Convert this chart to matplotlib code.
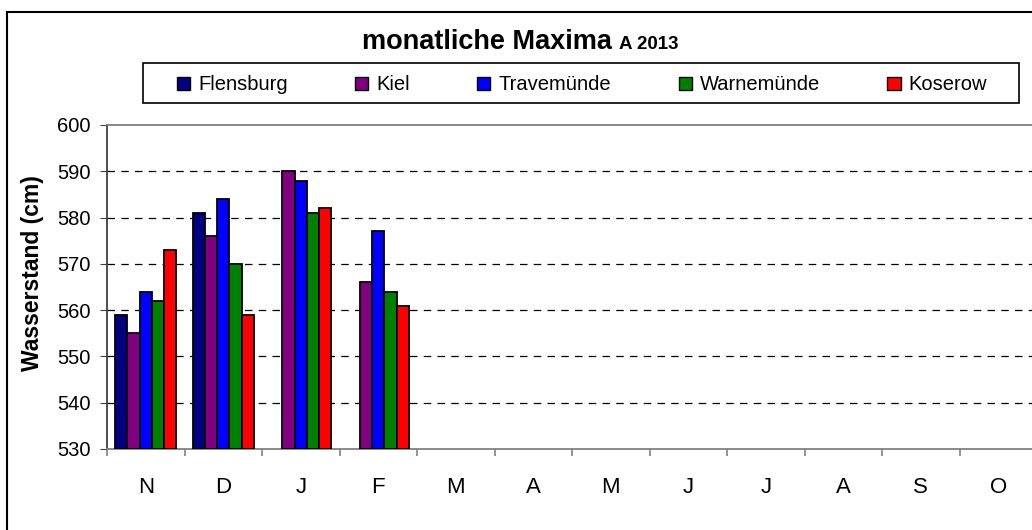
import matplotlib.pyplot as plt
import matplotlib.patches as mpatches
import numpy as np

plt.rcParams['font.family'] = ['Liberation Sans', 'DejaVu Sans']

# Monate (Nov 2012 - Okt 2013)
months = ['N', 'D', 'J', 'F', 'M', 'A', 'M', 'J', 'J', 'A', 'S', 'O']
stations = ['Flensburg', 'Kiel', 'Travemünde', 'Warnemünde', 'Koserow']
colors = ['#000080', '#800080', '#0000ff', '#008000', '#ff0000']

nan = np.nan
flensburg = [559, 581, nan, nan] + [nan] * 8
kiel = [555, 576, 590, 566] + [nan] * 8
travemuende = [564, 584, 588, 577] + [nan] * 8
warnemuende = [562, 570, 581, 564] + [nan] * 8
koserow = [573, 559, 582, 561] + [nan] * 8
series = [flensburg, kiel, travemuende, warnemuende, koserow]

W, H = 1032, 530
fig = plt.figure(figsize=(W / 100, H / 100), dpi=100)


def fx(px):
    return px / W


def fy(py):
    return 1 - py / H


# Rahmen um das Diagramm (unten und rechts ausserhalb des Bildes)
fig.patches.append(mpatches.Rectangle((fx(7), fy(540)), 1.2, 528 / H,
                                      transform=fig.transFigure, fill=False,
                                      edgecolor='black', linewidth=1.5))

ax = fig.add_axes([fx(107), fy(449), 930 / W, 324 / H])

x = np.arange(len(months))
w = 0.158
for i, (vals, c) in enumerate(zip(series, colors)):
    ax.bar(x + (i - 2) * w, np.array(vals) - 530, bottom=530, width=w,
           color=c, edgecolor='black', linewidth=1.3, zorder=3)

ax.set_xlim(-0.5, len(months) - 0.5)
ax.set_ylim(530, 600)
ax.set_yticks(range(530, 601, 10))
ax.set_xticks(x)
ax.set_xticklabels(months)
ax.set_xticks(np.arange(-0.5, len(months)), minor=True)
ax.tick_params(axis='x', which='major', length=0, labelsize=16, pad=20)
ax.tick_params(axis='x', which='minor', length=5, color='#808080', width=1.2)
ax.tick_params(axis='y', length=5, labelsize=14.5, color='#404040', pad=7)

for yv in range(540, 600, 10):
    ax.axhline(yv, color='black', linestyle=(0, (6, 5)), linewidth=0.9, zorder=1)

ax.spines['left'].set_color('#404040')
ax.spines['bottom'].set_color('#808080')
ax.spines['top'].set_color('#808080')
ax.spines['right'].set_visible(False)
for s in ax.spines.values():
    s.set_linewidth(1.3)

ax.set_ylabel('Wasserstand (cm)', fontsize=16.5, fontweight='bold')
ax.yaxis.set_label_coords((44 - 107) / 930, (449 - 273) / 324)

# Titel
renderer = fig.canvas.get_renderer()
title = fig.text(fx(362), fy(49), 'monatliche Maxima', ha='left', va='baseline',
                 fontsize=19.5, fontweight='bold')
tx1 = title.get_window_extent(renderer).x1
fig.text((tx1 + 7) / W, fy(49), 'A 2013', ha='left', va='baseline',
         fontsize=13.5, fontweight='bold')

# Legende mit eigenem Rahmen
fig.patches.append(mpatches.Rectangle((fx(143), fy(103)), 876 / W, 40 / H,
                                      transform=fig.transFigure, fill=False,
                                      edgecolor='black', linewidth=1.2))
handles = [mpatches.Patch(facecolor=c, edgecolor='black', linewidth=1) for c in colors]
fig.legend(handles, stations, loc='center', bbox_to_anchor=(fx(582), fy(85)),
           ncol=5, frameon=False, fontsize=14.5, handlelength=0.65,
           handleheight=0.65, handletextpad=0.4, columnspacing=3.35, borderpad=0)

fig.savefig('out.png', dpi=100)
